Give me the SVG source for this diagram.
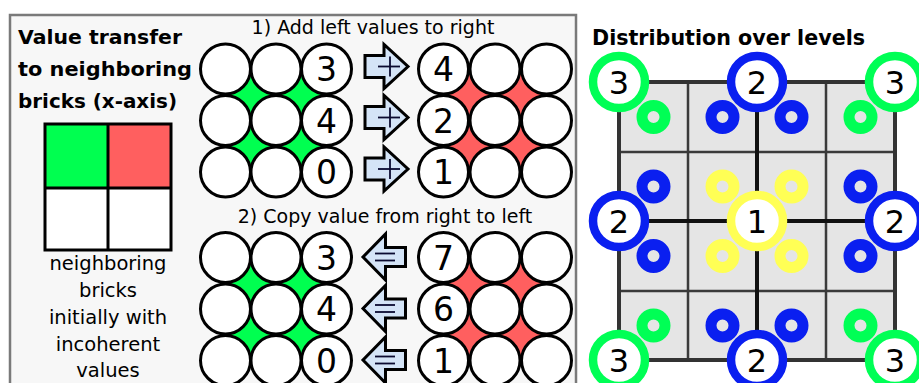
<svg xmlns="http://www.w3.org/2000/svg" width="919" height="383" viewBox="0 0 919 383">
<defs>
<style>
.t{font-family:"DejaVu Sans","Liberation Sans",sans-serif;fill:#000}
.b{font-weight:bold}
.c{fill:#fff;stroke:#000;stroke-width:3}
.num{font-size:33px;text-anchor:middle}
.hdr{font-size:19px;text-anchor:middle}
.leg{font-size:19.5px;text-anchor:middle}
.arr{fill:#d4e4f7;stroke:#000;stroke-width:3;stroke-linejoin:miter}
.sym{stroke:#0a0a30;stroke-width:1.8}
.big{fill:#fff;stroke-width:8.5}
.sm{fill:none;stroke-width:11}
.g{stroke:#00ff55}
.bl{stroke:#0a1ff0}
.y{stroke:#ffff55}
.bn{font-size:32px;text-anchor:middle}
</style>
<g id="arrR">
<path class="arr" d="M-21.5,-11 H-2.5 V-22 L21.5,0 L-2.5,22 V11 H-21.5 Z"/>
<line class="sym" x1="3.5" y1="-10" x2="3.5" y2="10"/>
<line class="sym" x1="-8.5" y1="0" x2="13.5" y2="0"/>
</g>
<g id="arrL">
<path class="arr" d="M21.5,-9.5 H1.5 V-23 L-21,0 L1.5,23 V9.5 H21.5 Z"/>
<line class="sym" x1="-9" y1="-3.5" x2="11" y2="-3.5"/>
<line class="sym" x1="-9" y1="3.5" x2="11" y2="3.5"/>
</g>
</defs>
<rect width="919" height="383" fill="#fff"/>

<g id="panel-left">
<rect x="10" y="15" width="566" height="380" fill="#f7f7f7" stroke="#7a7a7a" stroke-width="2.5"/>
</g>

<g id="title-transfer">
<text class="t b" x="18" y="44" font-size="20" textLength="164" lengthAdjust="spacingAndGlyphs">Value transfer</text>
<text class="t b" x="18" y="76" font-size="20" textLength="174" lengthAdjust="spacingAndGlyphs">to neighboring</text>
<text class="t b" x="18" y="108" font-size="20" textLength="159" lengthAdjust="spacingAndGlyphs">bricks (x-axis)</text>
</g>

<g id="legend">
<rect x="45" y="124" width="63" height="64" fill="#00ff50"/>
<rect x="108" y="124" width="63" height="64" fill="#ff5f5f"/>
<rect x="108" y="188" width="63" height="62" fill="#fff"/>
<rect x="45" y="188" width="63" height="62" fill="#fff"/>
<rect x="45" y="124" width="126" height="126" fill="none" stroke="#000" stroke-width="3"/>
<line x1="108" y1="124" x2="108" y2="250" stroke="#000" stroke-width="3"/>
<line x1="45" y1="188" x2="171" y2="188" stroke="#000" stroke-width="3"/>
<text class="t leg" x="108" y="270">neighboring</text>
<text class="t leg" x="108" y="297">bricks</text>
<text class="t leg" x="108" y="324">initially with</text>
<text class="t leg" x="108" y="351">incoherent</text>
<text class="t leg" x="108" y="377">values</text>
</g>

<g id="step1-label"><text class="t hdr" x="373" y="34">1) Add left values to right</text></g>
<g id="step2-label"><text class="t hdr" x="385" y="223">2) Copy value from right to left</text></g>

<g id="grid-add-left">
<rect x="225.5" y="69" width="101" height="103" fill="#00ff50"/>
<circle class="c" cx="225.5" cy="69" r="25"/><circle class="c" cx="276" cy="69" r="25"/><circle class="c" cx="326.5" cy="69" r="25"/>
<circle class="c" cx="225.5" cy="120.5" r="25"/><circle class="c" cx="276" cy="120.5" r="25"/><circle class="c" cx="326.5" cy="120.5" r="25"/>
<circle class="c" cx="225.5" cy="172" r="25"/><circle class="c" cx="276" cy="172" r="25"/><circle class="c" cx="326.5" cy="172" r="25"/>
<text class="t num" x="326.5" y="81">3</text>
<text class="t num" x="326.5" y="132.5">4</text>
<text class="t num" x="326.5" y="184">0</text>
</g>

<g id="grid-add-right">
<rect x="443.5" y="69" width="103" height="103" fill="#ff5f5f"/>
<circle class="c" cx="443.5" cy="69" r="25"/><circle class="c" cx="495" cy="69" r="25"/><circle class="c" cx="546.5" cy="69" r="25"/>
<circle class="c" cx="443.5" cy="120.5" r="25"/><circle class="c" cx="495" cy="120.5" r="25"/><circle class="c" cx="546.5" cy="120.5" r="25"/>
<circle class="c" cx="443.5" cy="172" r="25"/><circle class="c" cx="495" cy="172" r="25"/><circle class="c" cx="546.5" cy="172" r="25"/>
<text class="t num" x="443.5" y="81">4</text>
<text class="t num" x="443.5" y="132.5">2</text>
<text class="t num" x="443.5" y="184">1</text>
</g>

<g id="grid-copy-left">
<rect x="225.5" y="257.5" width="101" height="103" fill="#00ff50"/>
<circle class="c" cx="225.5" cy="257.5" r="25"/><circle class="c" cx="276" cy="257.5" r="25"/><circle class="c" cx="326.5" cy="257.5" r="25"/>
<circle class="c" cx="225.5" cy="309" r="25"/><circle class="c" cx="276" cy="309" r="25"/><circle class="c" cx="326.5" cy="309" r="25"/>
<circle class="c" cx="225.5" cy="360.5" r="25"/><circle class="c" cx="276" cy="360.5" r="25"/><circle class="c" cx="326.5" cy="360.5" r="25"/>
<text class="t num" x="326.5" y="269.5">3</text>
<text class="t num" x="326.5" y="321">4</text>
<text class="t num" x="326.5" y="372.5">0</text>
</g>

<g id="grid-copy-right">
<rect x="443.5" y="257.5" width="103" height="103" fill="#ff5f5f"/>
<circle class="c" cx="443.5" cy="257.5" r="25"/><circle class="c" cx="495" cy="257.5" r="25"/><circle class="c" cx="546.5" cy="257.5" r="25"/>
<circle class="c" cx="443.5" cy="309" r="25"/><circle class="c" cx="495" cy="309" r="25"/><circle class="c" cx="546.5" cy="309" r="25"/>
<circle class="c" cx="443.5" cy="360.5" r="25"/><circle class="c" cx="495" cy="360.5" r="25"/><circle class="c" cx="546.5" cy="360.5" r="25"/>
<text class="t num" x="443.5" y="269.5">7</text>
<text class="t num" x="443.5" y="321">6</text>
<text class="t num" x="443.5" y="372.5">1</text>
</g>

<g id="connectors">
<use href="#arrR" x="386.5" y="66.5"/>
<use href="#arrR" x="386.5" y="117.5"/>
<use href="#arrR" x="386.5" y="169"/>
<use href="#arrL" x="384" y="257"/>
<use href="#arrL" x="384" y="308.5"/>
<use href="#arrL" x="384" y="360"/>
</g>

<g id="title-distribution">
<text class="t b" x="592" y="45" font-size="20.5" textLength="273" lengthAdjust="spacingAndGlyphs">Distribution over levels</text>
</g>

<g id="level-grid">
<rect x="619" y="82" width="276" height="278" fill="#e5e5e5"/>
<g stroke="#3a3a3a" stroke-width="2.5">
<line x1="688" y1="82" x2="688" y2="360"/><line x1="826" y1="82" x2="826" y2="360"/>
<line x1="619" y1="152" x2="895" y2="152"/><line x1="619" y1="291" x2="895" y2="291"/>
</g>
<g stroke="#111" stroke-width="4">
<line x1="757" y1="82" x2="757" y2="360"/><line x1="619" y1="221" x2="895" y2="221"/>
</g>
<rect x="619" y="82" width="276" height="278" fill="none" stroke="#333" stroke-width="4"/>
</g>

<g id="small-rings">
<circle class="sm g" cx="653.5" cy="117" r="11.5"/><circle class="sm bl" cx="722.5" cy="117" r="11.5"/><circle class="sm bl" cx="791.5" cy="117" r="11.5"/><circle class="sm g" cx="860.5" cy="117" r="11.5"/>
<circle class="sm bl" cx="653.5" cy="186.5" r="11.5"/><circle class="sm y" cx="722.5" cy="186.5" r="11.5"/><circle class="sm y" cx="791.5" cy="186.5" r="11.5"/><circle class="sm bl" cx="860.5" cy="186.5" r="11.5"/>
<circle class="sm bl" cx="653.5" cy="256" r="11.5"/><circle class="sm y" cx="722.5" cy="256" r="11.5"/><circle class="sm y" cx="791.5" cy="256" r="11.5"/><circle class="sm bl" cx="860.5" cy="256" r="11.5"/>
<circle class="sm g" cx="653.5" cy="325.5" r="11.5"/><circle class="sm bl" cx="722.5" cy="325.5" r="11.5"/><circle class="sm bl" cx="791.5" cy="325.5" r="11.5"/><circle class="sm g" cx="860.5" cy="325.5" r="11.5"/>
</g>

<g id="ring-tl"><circle class="big g" cx="619" cy="82" r="26"/><text class="t bn" x="619" y="93.5">3</text></g>
<g id="ring-tc"><circle class="big bl" cx="757" cy="82" r="26"/><text class="t bn" x="757" y="93.5">2</text></g>
<g id="ring-tr"><circle class="big g" cx="895" cy="82" r="26"/><text class="t bn" x="895" y="93.5">3</text></g>
<g id="ring-ml"><circle class="big bl" cx="619" cy="221" r="26"/><text class="t bn" x="619" y="232.5">2</text></g>
<g id="ring-c"><circle class="big y" cx="757" cy="221" r="26"/><text class="t bn" x="757" y="232.5">1</text></g>
<g id="ring-mr"><circle class="big bl" cx="895" cy="221" r="26"/><text class="t bn" x="895" y="232.5">2</text></g>
<g id="ring-bl"><circle class="big g" cx="619" cy="360" r="26"/><text class="t bn" x="619" y="371.5">3</text></g>
<g id="ring-bc"><circle class="big bl" cx="757" cy="360" r="26"/><text class="t bn" x="757" y="371.5">2</text></g>
<g id="ring-br"><circle class="big g" cx="895" cy="360" r="26"/><text class="t bn" x="895" y="371.5">3</text></g>
</svg>
